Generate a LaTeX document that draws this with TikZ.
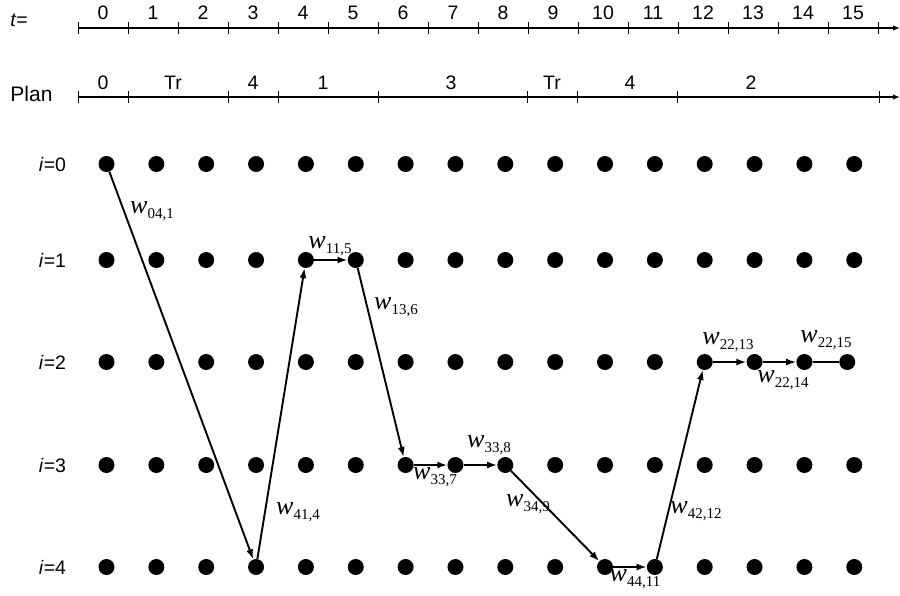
\documentclass[tikz,border=0pt]{standalone}
\usepackage{fontspec}
\setmainfont{Liberation Sans}
\newfontfamily\serifw{Liberation Serif}
\usetikzlibrary{arrows.meta}
\newcommand{\wlab}[1]{{\serifw\fontsize{26}{26}\selectfont\itshape w}\raisebox{-5pt}{\serifw\fontsize{15}{15}\selectfont #1}}

\tikzset{
  dot/.style={circle, fill=black, inner sep=0pt, minimum size=16pt},
  conn/.style={line width=1.9pt, -{Latex[length=10pt,width=7pt]}},
  plainconn/.style={line width=1.9pt},
  axis/.style={line width=2.2pt, -{Latex[length=7pt,width=5.5pt]}},
  tick/.style={line width=1pt},
  num/.style={font={\fontsize{19.5}{21}\selectfont}, inner sep=0pt, anchor=base},
  wl/.style={inner sep=0pt}
}

\begin{document}
\begin{tikzpicture}[x=1pt,y=-1pt]
\useasboundingbox (0,0) rectangle (900,595);

%time axis
\node[num] (tlab) at (19,26) {\textit{t}=};
\coordinate (t0) at (78,28);
\coordinate (t1) at (900,28);
\draw[axis] (t0) -- (t1);
\foreach \k in {0,...,16} \draw[tick] ({78+50*\k},22) -- ({78+50*\k},33.5);
\foreach \k in {0,...,15} \node[num] (tn\k) at ({103+50*\k},19.5) {\k};

%plan axis
\node[num, font={\fontsize{21}{23}\selectfont}] (planlab) at (31.5,101.5) {Plan};
\coordinate (p0) at (78,97);
\coordinate (p1) at (900,97);
\draw[axis] (p0) -- (p1);
\foreach \x in {78,128,228,278,378,527,577,677,879} \draw[tick] (\x,91) -- (\x,103);
\foreach \x/\s [count=\n] in {103/0,173/Tr,253/4,323/1,451/3,552/Tr,630/4,751/2}
  \node[num] (pl\n) at (\x,89) {\s};

%grid of states
\foreach \r/\y in {0/164,1/260,2/362,3/465,4/567} {
  \node[num] (row\r) at (52.5,\y+7) {\textit{i}=\r};
  \foreach \c in {0,...,15}
    \node[dot] (p\r-\c) at ({106.5+49.85*\c-7*(\r==2)*(\c==15)},\y) {};
}

%path
\draw[conn] (p0-0) -- (p4-3);
\draw[conn] (p4-3) -- (p1-4);
\draw[conn] (p1-4) -- (p1-5);
\draw[conn] (p1-5) -- (p3-6);
\draw[conn] (p3-6) -- (p3-7);
\draw[conn] (p3-7) -- (p3-8);
\draw[conn] (p3-8) -- (p4-10);
\draw[conn] (p4-10) -- (p4-11);
\draw[conn] (p4-11) -- (p2-12);
\draw[conn] (p2-12) -- (p2-13);
\draw[conn] (p2-13) -- (p2-14);
\draw[plainconn] (p2-14) -- (p2-15);

%weights
\node[wl] (w041) at (152,211) {\wlab{04,1}};
\node[wl] (w115) at (330,246) {\wlab{11,5}};
\node[wl] (w136) at (396,307) {\wlab{13,6}};
\node[wl] (w414) at (298,512) {\wlab{41,4}};
\node[wl] (w337) at (435,477) {\wlab{33,7}};
\node[wl] (w338) at (489,445) {\wlab{33,8}};
\node[wl] (w349) at (528,504) {\wlab{34,9}};
\node[wl] (w4411) at (635,579) {\wlab{44,11}};
\node[wl] (w4212) at (696,511) {\wlab{42,12}};
\node[wl] (w2213) at (728,342) {\wlab{22,13}};
\node[wl] (w2214) at (783,380) {\wlab{22,14}};
\node[wl] (w2215) at (826,340) {\wlab{22,15}};
\end{tikzpicture}
\end{document}
